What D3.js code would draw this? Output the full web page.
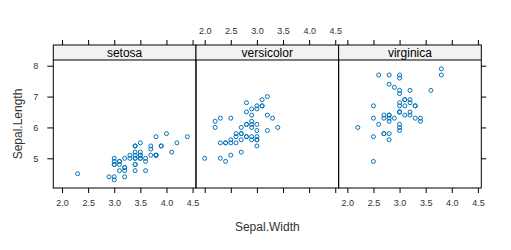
<!DOCTYPE html>
<html>
<head>
<meta charset="utf-8">
<script src="https://cdn.jsdelivr.net/npm/d3@7"></script>
<style>
  body { margin: 0; background: #fff; }
  .tick text { fill: #333; font-family: "Liberation Sans", Arial, sans-serif; font-size: 9px; }
  .tick line { stroke: #000; }
</style>
</head>
<body>
<div id="chart-area"></div>
<script>
/*
*    iris sepal panels
*/

var species = ["setosa", "versicolor", "virginica"];

var sepalWidth = {
    setosa: [3.5, 3.0, 3.2, 3.1, 3.6, 3.9, 3.4, 3.4, 2.9, 3.1, 3.7, 3.4, 3.0, 3.0, 4.0, 4.4, 3.9, 3.5, 3.8, 3.8,
             3.4, 3.7, 3.6, 3.3, 3.4, 3.0, 3.4, 3.5, 3.4, 3.2, 3.1, 3.4, 4.1, 4.2, 3.1, 3.2, 3.5, 3.6, 3.0, 3.4,
             3.5, 2.3, 3.2, 3.5, 3.8, 3.0, 3.8, 3.2, 3.7, 3.3],
    versicolor: [3.2, 3.2, 3.1, 2.3, 2.8, 2.8, 3.3, 2.4, 2.9, 2.7, 2.0, 3.0, 2.2, 2.9, 2.9, 3.1, 3.0, 2.7, 2.2, 2.5,
                 3.2, 2.8, 2.5, 2.8, 2.9, 3.0, 2.8, 3.0, 2.9, 2.6, 2.4, 2.4, 2.7, 2.7, 3.0, 3.4, 3.1, 2.3, 3.0, 2.5,
                 2.6, 3.0, 2.6, 2.3, 2.7, 3.0, 2.9, 2.9, 2.5, 2.8],
    virginica: [3.3, 2.7, 3.0, 2.9, 3.0, 3.0, 2.5, 2.9, 2.5, 3.6, 3.2, 2.7, 3.0, 2.5, 2.8, 3.2, 3.0, 3.8, 2.6, 2.2,
                3.2, 2.8, 2.8, 2.7, 3.3, 3.2, 2.8, 3.0, 2.8, 3.0, 2.8, 3.8, 2.8, 2.8, 2.6, 3.0, 3.4, 3.1, 3.0, 3.1,
                3.1, 3.1, 2.7, 3.2, 3.3, 3.0, 2.5, 3.0, 3.4, 3.0]
};

var sepalLength = {
    setosa: [5.1, 4.9, 4.7, 4.6, 5.0, 5.4, 4.6, 5.0, 4.4, 4.9, 5.4, 4.8, 4.8, 4.3, 5.8, 5.7, 5.4, 5.1, 5.7, 5.1,
             5.4, 5.1, 4.6, 5.1, 4.8, 5.0, 5.0, 5.2, 5.2, 4.7, 4.8, 5.4, 5.2, 5.5, 4.9, 5.0, 5.5, 4.9, 4.4, 5.1,
             5.0, 4.5, 4.4, 5.0, 5.1, 4.8, 5.1, 4.6, 5.3, 5.0],
    versicolor: [7.0, 6.4, 6.9, 5.5, 6.5, 5.7, 6.3, 4.9, 6.6, 5.2, 5.0, 5.9, 6.0, 6.1, 5.6, 6.7, 5.6, 5.8, 6.2, 5.6,
                 5.9, 6.1, 6.3, 6.1, 6.4, 6.6, 6.8, 6.7, 6.0, 5.7, 5.5, 5.5, 5.8, 6.0, 5.4, 6.0, 6.7, 6.3, 5.6, 5.5,
                 5.5, 6.1, 5.8, 5.0, 5.6, 5.7, 5.7, 6.2, 5.1, 5.7],
    virginica: [6.3, 5.8, 7.1, 6.3, 6.5, 7.6, 4.9, 7.3, 6.7, 7.2, 6.5, 6.4, 6.8, 5.7, 5.8, 6.4, 6.5, 7.7, 7.7, 6.0,
                6.9, 5.6, 7.7, 6.3, 6.7, 7.2, 6.2, 6.1, 6.4, 7.2, 7.4, 7.9, 6.4, 6.3, 6.1, 7.7, 6.3, 6.4, 6.0, 6.9,
                6.7, 6.9, 5.8, 6.8, 6.7, 6.7, 6.3, 6.5, 6.2, 5.9]
};

var xTicks = [2.0, 2.5, 3.0, 3.5, 4.0, 4.5];
var yTicks = [5, 6, 7, 8];

var width = 511;
var height = 250;
var left = 53.3;
var right = 481.3;
var stripTop = 45;
var panelTop = 60;
var panelBottom = 188;
var panelWidth = (right - left) / species.length;
var font = "'Liberation Sans', Arial, sans-serif";

var svg = d3.select("#chart-area").append("svg")
    .attr("width", width)
    .attr("height", height);

var x = d3.scaleLinear()
    .domain([1.833, 4.565])
    .range([0, panelWidth]);

var y = d3.scaleLinear()
    .domain([4.038, 8.185])
    .range([panelBottom, panelTop]);

var fmt = d3.format(".1f");

species.forEach(function(sp, i) {
    var g = svg.append("g")
        .attr("transform", "translate(" + (left + i * panelWidth) + ",0)");

    // strip
    g.append("rect")
        .attr("x", 0)
        .attr("y", stripTop)
        .attr("width", panelWidth)
        .attr("height", panelTop - stripTop)
        .attr("fill", "#f2f2f2");

    g.append("text")
        .attr("x", panelWidth / 2)
        .attr("y", panelTop - 3)
        .attr("text-anchor", "middle")
        .attr("font-family", font)
        .attr("font-size", "12px")
        .attr("fill", "#000")
        .text(sp);

    // x axes, alternating labels
    var labelBottom = (i % 2 === 0);
    var bottomAxis = d3.axisBottom(x)
        .tickValues(xTicks)
        .tickSize(5)
        .tickSizeOuter(0)
        .tickPadding(7)
        .tickFormat(labelBottom ? fmt : "");
    var topAxis = d3.axisTop(x)
        .tickValues(xTicks)
        .tickSize(5)
        .tickSizeOuter(0)
        .tickPadding(6)
        .tickFormat(labelBottom ? "" : fmt);

    g.append("g")
        .attr("transform", "translate(0," + panelBottom + ")")
        .call(bottomAxis)
        .call(function(a) { a.select(".domain").remove(); });

    g.append("g")
        .attr("transform", "translate(0," + stripTop + ")")
        .call(topAxis)
        .call(function(a) { a.select(".domain").remove(); });

    // points
    var pts = d3.zip(sepalWidth[sp], sepalLength[sp]);
    g.selectAll("circle").data(pts).enter().append("circle")
        .attr("cx", (d) => x(d[0]))
        .attr("cy", (d) => y(d[1]))
        .attr("r", 2)
        .attr("fill", "none")
        .attr("stroke", "#0072bb")
        .attr("stroke-width", 1);

    // borders
    g.append("rect")
        .attr("x", 0)
        .attr("y", stripTop)
        .attr("width", panelWidth)
        .attr("height", panelBottom - stripTop)
        .attr("fill", "none")
        .attr("stroke", "#000");

    g.append("line")
        .attr("x1", 0)
        .attr("x2", panelWidth)
        .attr("y1", panelTop)
        .attr("y2", panelTop)
        .attr("stroke", "#000");
});

// y axes
svg.append("g")
    .attr("transform", "translate(" + left + ",0)")
    .call(d3.axisLeft(y).tickValues(yTicks).tickSize(6).tickSizeOuter(0).tickPadding(9).tickFormat(d3.format("d")))
    .call(function(a) { a.select(".domain").remove(); });

svg.append("g")
    .attr("transform", "translate(" + right + ",0)")
    .call(d3.axisRight(y).tickValues(yTicks).tickSize(5).tickSizeOuter(0).tickFormat(""))
    .call(function(a) { a.select(".domain").remove(); });

// axis titles
svg.append("text")
    .attr("x", (left + right) / 2)
    .attr("y", 231)
    .attr("text-anchor", "middle")
    .attr("font-family", font)
    .attr("font-size", "12px")
    .attr("fill", "#333")
    .text("Sepal.Width");

svg.append("text")
    .attr("x", -(panelTop + panelBottom) / 2)
    .attr("y", 22)
    .attr("transform", "rotate(-90)")
    .attr("text-anchor", "middle")
    .attr("font-family", font)
    .attr("font-size", "12px")
    .attr("fill", "#333")
    .text("Sepal.Length");
</script>
</body>
</html>
